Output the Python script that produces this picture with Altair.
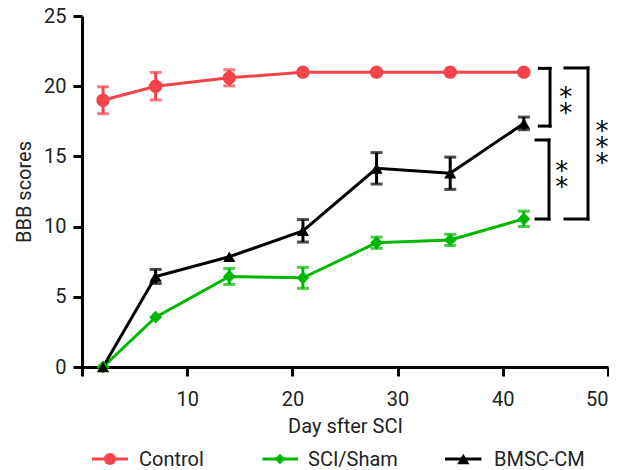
import altair as alt
import pandas as pd

# ---------------- data ----------------
days = [2, 7, 14, 21, 28, 35, 42]
series = ["Control", "SCI/Sham", "BMSC-CM"]
colors = ["#f2444a", "#00b800", "#000000"]
shapes = ["circle", "diamond", "triangle-up"]

control_mean = [19.0, 20.0, 20.6, 21.0, 21.0, 21.0, 21.0]
control_err = [0.96, 0.98, 0.57, 0, 0, 0, 0]
sham_mean = [0.0, 3.55, 6.45, 6.35, 8.85, 9.05, 10.55]
sham_err = [0, 0, 0.57, 0.75, 0.4, 0.4, 0.55]
bmsc_mean = [0.0, 6.45, 7.85, 9.7, 14.15, 13.8, 17.35]
bmsc_err = [0, 0.5, 0, 0.8, 1.12, 1.15, 0.45]

x_ticks = [0, 10, 20, 30, 40, 50]
y_ticks = [0, 5, 10, 15, 20, 25]

# significance brackets (x_left, x_right, y_top, y_bottom) in data units
bracket_xl = [43.47, 43.16, 45.91]
bracket_xr = [44.49, 44.39, 48.1]
bracket_top = [21.27, 16.17, 21.3]
bracket_bot = [17.16, 10.54, 10.54]
star_text = ["*\n*", "*\n*", "*\n*\n*"]
star_x = [45.98, 45.6, 49.43]
star_y = [19.55, 14.21, 17.09]   # position of the first (top) asterisk

FONT = "Roboto, Liberation Sans Narrow, sans-serif"
TXT = "#222222"

rows = []
for name, m, e in [("Control", control_mean, control_err),
                   ("SCI/Sham", sham_mean, sham_err),
                   ("BMSC-CM", bmsc_mean, bmsc_err)]:
    for d, mv, ev in zip(days, m, e):
        rows.append({"series": name, "day": d, "mean": mv, "err": ev,
                     "lo": mv - ev, "hi": mv + ev})
df = pd.DataFrame(rows)

segs = []
for xl, xr, yt, yb in zip(bracket_xl, bracket_xr, bracket_top, bracket_bot):
    segs.append({"x": xl, "x2": xr, "y": yt, "y2": yt})
    segs.append({"x": xl, "x2": xr, "y": yb, "y2": yb})
    segs.append({"x": xr, "x2": xr, "y": yt, "y2": yb})
seg_df = pd.DataFrame(segs)
star_df = pd.DataFrame({"x": star_x, "y": star_y, "t": star_text})

xscale = alt.Scale(domain=[0, 50], nice=False, zero=False)
yscale = alt.Scale(domain=[0, 25], nice=False)
color = alt.Color("series:N", scale=alt.Scale(domain=series, range=colors), legend=None)

xaxis = alt.Axis(values=x_ticks, labelExpr="datum.value == 0 ? '' : datum.label",
                 title="Day sfter SCI", grid=False, domainColor="black", domainWidth=3,
                 tickColor="black", tickWidth=3, tickSize=9, labelFontSize=20,
                 titleFontSize=20, labelFont=FONT, titleFont=FONT,
                 titleFontWeight="normal", labelColor=TXT, titleColor=TXT,
                 labelPadding=13, titlePadding=7, labelFlush=True)
yaxis = alt.Axis(values=y_ticks, title="BBB scores", grid=False, domainColor="black",
                 domainWidth=3, tickColor="black", tickWidth=3, tickSize=9,
                 labelFontSize=20, titleFontSize=20, labelFont=FONT, titleFont=FONT,
                 titleFontWeight="normal", labelColor=TXT, titleColor=TXT,
                 labelPadding=7, titlePadding=9, labelFlush=False)

base = alt.Chart(df)
err_df = df[df["err"] > 0]

axes_layer = alt.Chart(df).mark_point(opacity=0).encode(
    x=alt.X("day:Q", scale=xscale, axis=xaxis),
    y=alt.Y("mean:Q", scale=yscale, axis=yaxis),
)

err_rule = alt.Chart(err_df).mark_rule(strokeWidth=3).encode(
    x=alt.X("day:Q", scale=xscale), y=alt.Y("lo:Q", scale=yscale), y2="hi:Q", color=color)
cap_hi = alt.Chart(err_df).mark_tick(orient="horizontal", size=12, thickness=3).encode(
    x=alt.X("day:Q", scale=xscale), y=alt.Y("hi:Q", scale=yscale), color=color)
cap_lo = alt.Chart(err_df).mark_tick(orient="horizontal", size=12, thickness=3).encode(
    x=alt.X("day:Q", scale=xscale), y=alt.Y("lo:Q", scale=yscale), color=color)

lines = base.mark_line(strokeWidth=3).encode(
    x=alt.X("day:Q", scale=xscale), y=alt.Y("mean:Q", scale=yscale),
    color=color, detail="series:N")
points = base.mark_point(filled=True, opacity=1).encode(
    x=alt.X("day:Q", scale=xscale), y=alt.Y("mean:Q", scale=yscale), color=color,
    shape=alt.Shape("series:N", scale=alt.Scale(domain=series, range=shapes), legend=None),
    size=alt.Size("series:N", scale=alt.Scale(domain=series, range=[180, 150, 190]), legend=None))

brackets = alt.Chart(seg_df).mark_rule(strokeWidth=3, color="black", strokeCap="square").encode(
    x=alt.X("x:Q", scale=xscale), x2="x2:Q",
    y=alt.Y("y:Q", scale=yscale), y2="y2:Q")
stars = alt.Chart(star_df).mark_text(fontSize=26, lineBreak="\n", lineHeight=16,
                                     baseline="middle", align="center", dy=5,
                                     font="DejaVu Sans", color="black").encode(
    x=alt.X("x:Q", scale=xscale), y=alt.Y("y:Q", scale=yscale), text="t:N")

# manual legend (pixel positions relative to plot area)
leg_y = 450
leg_specs = [
    ("Control", 10, 46, 28, 57, 150),
    ("SCI/Sham", 180.5, 216, 198, 226, 110),
    ("BMSC-CM", 363, 399.5, 381.3, 412, 150),
]
one = pd.DataFrame({"k": [0]})
legend_layers = []
for (name, lx1, lx2, mx, tx, msize), col, shp in zip(leg_specs, colors, shapes):
    legend_layers.append(alt.Chart(one).mark_rule(strokeWidth=3, color=col).encode(
        x=alt.value(lx1), x2=alt.value(lx2), y=alt.value(leg_y - 7)))
    legend_layers.append(alt.Chart(one).mark_point(filled=True, opacity=1, color=col,
                                                   shape=shp, size=msize).encode(
        x=alt.value(mx), y=alt.value(leg_y - 7)))
    legend_layers.append(alt.Chart(one).mark_text(text=name, align="left", baseline="alphabetic",
                                                  fontSize=20, font=FONT, color=TXT).encode(
        x=alt.value(tx), y=alt.value(leg_y)))

chart = alt.layer(axes_layer, err_rule, cap_hi, cap_lo, lines, points, brackets, stars,
                  *legend_layers).properties(
    width=526, height=351,
    autosize=alt.AutoSizeParams(type="none"),
    padding={"left": 74, "top": 8, "right": 1, "bottom": 103},
).configure_view(stroke=None)

chart.save("out.html", embed_options={"renderer": "svg", "actions": False})
